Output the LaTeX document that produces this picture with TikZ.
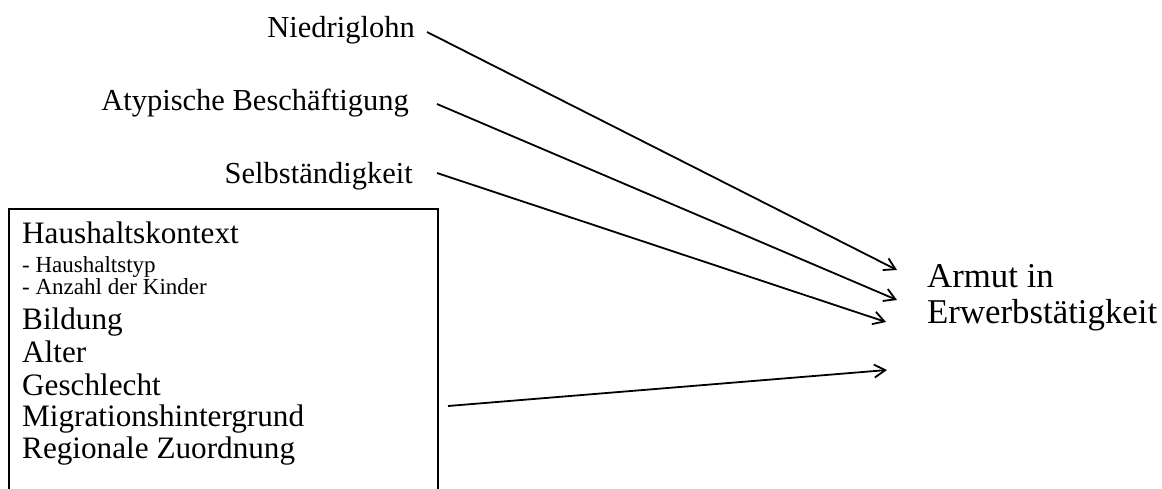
\documentclass[tikz,border=0pt]{standalone}
\usepackage{fontspec}
\setmainfont{Liberation Serif}
\usetikzlibrary{arrows.meta}
\tikzset{
  lbl/.style={inner sep=0pt, font=\fontsize{30.5}{32}\selectfont},
  boxlbl/.style={inner sep=0pt, font=\fontsize{31.2}{33}\selectfont},
  sub/.style={inner sep=0pt, font=\fontsize{23}{25}\selectfont},
  conn/.style={line width=1.8pt, -{Straight Barb[length=11pt,width=13pt,line width=1.8pt]}},
  frame/.style={draw, line width=1.9pt, inner sep=0pt}
}
\begin{document}
\begin{tikzpicture}[x=1pt,y=-1pt]
\useasboundingbox (0,0) rectangle (1162,488);
\clip (0,0) rectangle (1162,488);
% top labels
\node[lbl, anchor=base east] (nied) at (415,37) {Niedriglohn};
\node[lbl, anchor=base east] (atyp) at (409,110) {Atypische Beschäftigung};
\node[lbl, anchor=base east] (selb) at (413,183) {Selbständigkeit};
% box
\node[frame, anchor=north west, minimum width=429pt, minimum height=330pt] (box) at (8,208) {};
\node[boxlbl, anchor=base west] (hh) at (22,243) {Haushaltskontext};
\node[sub, anchor=base west] (hht) at (22,272) {- Haushaltstyp};
\node[sub, anchor=base west] (kin) at (22,294) {- Anzahl der Kinder};
\node[boxlbl, anchor=base west] (bil) at (22,329) {Bildung};
\node[boxlbl, anchor=base west] (alt) at (22,362) {Alter};
\node[boxlbl, anchor=base west] (ges) at (22,395) {Geschlecht};
\node[boxlbl, anchor=base west] (mig) at (22,426) {Migrationshintergrund};
\node[boxlbl, anchor=base west] (reg) at (22,458) {Regionale Zuordnung};
% target
\node[inner sep=0pt, anchor=base west, align=left, font=\fontsize{34.8}{36}\selectfont] (armut) at (927,323) {Armut in\\Erwerbstätigkeit};
% connector ends
\coordinate (s1) at (427,32);
\coordinate (s2) at (437,104);
\coordinate (s3) at (437,173);
\coordinate (s4) at (448,406);
\coordinate (e1) at (897,270);
\coordinate (e2) at (897,300);
\coordinate (e3) at (886,322);
\coordinate (e4) at (887,370);
\draw[conn] (s1) -- (e1);
\draw[conn] (s2) -- (e2);
\draw[conn] (s3) -- (e3);
\draw[conn] (s4) -- (e4);
\end{tikzpicture}
\end{document}
